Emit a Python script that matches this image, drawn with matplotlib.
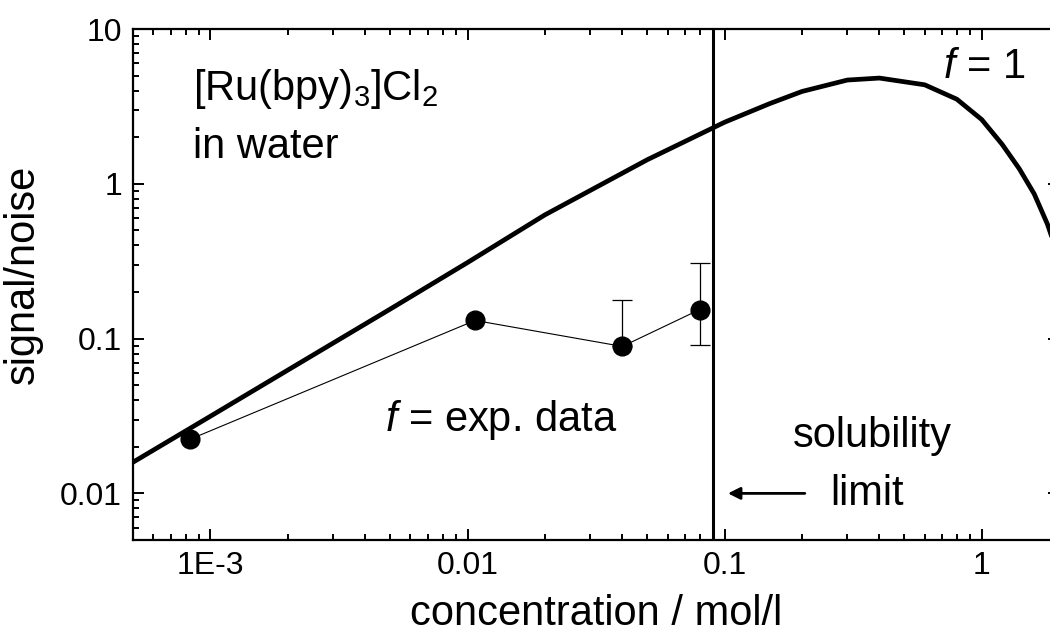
import matplotlib
matplotlib.use("Agg")
import matplotlib.pyplot as plt
from matplotlib.ticker import FixedLocator, FixedFormatter, LogLocator, NullFormatter

# model curve for f = 1
conc_f1 = [5e-4, 1e-3, 2e-3, 5e-3, 0.01, 0.02, 0.05, 0.1, 0.15, 0.2, 0.3,
           0.4, 0.6, 0.8, 1.0, 1.2, 1.4, 1.6, 1.8, 2.0]
sn_f1 = [0.0159, 0.0315, 0.0626, 0.155, 0.31, 0.63, 1.43, 2.5, 3.3, 3.95,
         4.68, 4.82, 4.36, 3.52, 2.6, 1.8, 1.25, 0.86, 0.55, 0.33]

# measured signal/noise
conc_exp = [8.3e-4, 0.0107, 0.040, 0.080]
sn_exp = [0.0223, 0.131, 0.089, 0.154]
err_lo = [0.0, 0.0, 0.0, 0.0625]
err_hi = [0.0, 0.0, 0.088, 0.152]

solubility_limit = 0.09

x_ticks = [1e-3, 0.01, 0.1, 1]
x_ticklabels = ["1E-3", "0.01", "0.1", "1"]
y_ticks = [0.01, 0.1, 1, 10]
y_ticklabels = ["0.01", "0.1", "1", "10"]

plt.rcParams["font.family"] = ["Liberation Sans", "DejaVu Sans"]
plt.rcParams["mathtext.fontset"] = "custom"
plt.rcParams["mathtext.rm"] = "Liberation Sans"
plt.rcParams["mathtext.it"] = "Liberation Sans:italic"

fig = plt.figure(figsize=(10.5, 6.32), dpi=100)
ax = fig.add_axes([0.1267, 0.1456, 0.882, 0.8085])
ax.set_xscale("log")
ax.set_yscale("log")
ax.set_xlim(5e-4, 2)
ax.set_ylim(0.005, 10)

ax.plot(conc_f1, sn_f1, color="black", lw=3.4, zorder=3)
ax.axvline(solubility_limit, color="black", lw=2.2, zorder=3)

ax.plot(conc_exp, sn_exp, color="black", lw=0.8, marker="o", ms=13.5,
        zorder=4)
ax.errorbar(conc_exp[2:], sn_exp[2:], yerr=[err_lo[2:], err_hi[2:]],
            fmt="none", ecolor="black", elinewidth=0.9, capsize=7,
            capthick=0.9, zorder=2)

# axes and ticks
for s in ax.spines.values():
    s.set_linewidth(1.6)
ax.xaxis.set_major_locator(FixedLocator(x_ticks))
ax.xaxis.set_major_formatter(FixedFormatter(x_ticklabels))
ax.yaxis.set_major_locator(FixedLocator(y_ticks))
ax.yaxis.set_major_formatter(FixedFormatter(y_ticklabels))
ax.xaxis.set_minor_locator(LogLocator(base=10, subs=range(2, 10), numticks=20))
ax.yaxis.set_minor_locator(LogLocator(base=10, subs=range(2, 10), numticks=20))
ax.xaxis.set_minor_formatter(NullFormatter())
ax.yaxis.set_minor_formatter(NullFormatter())
ax.tick_params(which="both", direction="in", top=True, right=True,
               width=1.4, labelsize=23)
ax.tick_params(which="major", length=8, pad=8)
ax.tick_params(which="minor", length=4)

ax.set_xlabel("concentration / mol/l", fontsize=30, labelpad=9)
ax.set_ylabel("signal/noise", fontsize=30, labelpad=6)
ax.yaxis.set_label_coords(-0.097, 0.52)

# annotations
ax.text(0.0648, 0.861, r"[Ru(bpy)$_\mathrm{3}$]Cl$_\mathrm{2}$",
        transform=ax.transAxes, fontsize=30, va="baseline")
ax.text(0.0648, 0.748, "in water", transform=ax.transAxes, fontsize=30,
        va="baseline")
ax.text(0.875, 0.904, r"$f$ = 1", transform=ax.transAxes, fontsize=30,
        va="baseline")
ax.text(0.272, 0.213, r"$f$ = exp. data", transform=ax.transAxes,
        fontsize=30, va="baseline")
ax.text(0.713, 0.182, "solubility", transform=ax.transAxes, fontsize=30,
        va="baseline")
ax.text(0.753, 0.0685, "limit", transform=ax.transAxes, fontsize=30,
        va="baseline")
ax.annotate("", xy=(0.103, 0.01), xytext=(0.205, 0.01),
            arrowprops=dict(arrowstyle="-|>", color="black", lw=2,
                            mutation_scale=18, shrinkA=0, shrinkB=0))

fig.savefig("out.png", dpi=100)
